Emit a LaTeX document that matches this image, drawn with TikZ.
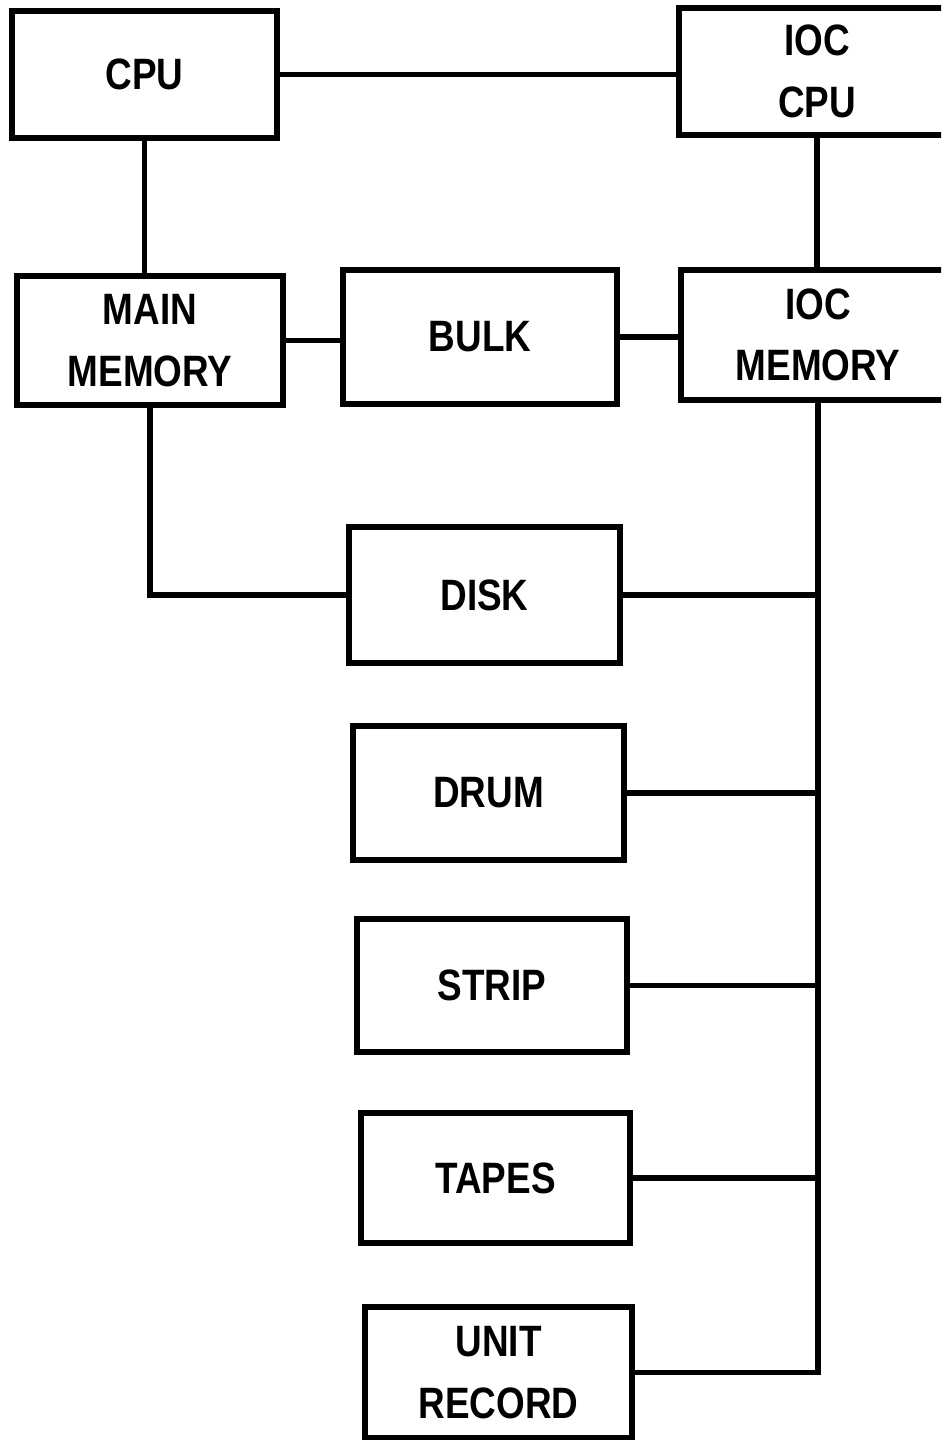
\documentclass[tikz,border=0pt]{standalone}
\usepackage{fontspec}
\setsansfont[FakeStretch=0.84]{Liberation Sans}
\usetikzlibrary{positioning, calc}

\begin{document}
\begin{tikzpicture}[
        x=0.02cm, y=-0.02cm,
        box/.style={rectangle, draw=black, fill=white, line width=3.2pt, align=center, inner sep=0pt, font=\sffamily\bfseries\fontsize{25}{35}\selectfont},
        link/.style={draw=black, line width=3.2pt}
      ]
        \clip (0,0) rectangle (941,1440);

        % Nodes
        \node[box, minimum width=5.3cm, minimum height=2.54cm] (cpu) at (144.5,74.5) {CPU};
        \node[box, minimum width=5.52cm, minimum height=2.54cm] (ioccpu) at (817,71.5) {IOC\\CPU};
        \node[box, minimum width=5.32cm, minimum height=2.58cm] (mainmem) at (150,340.5) {MAIN\\MEMORY};
        \node[box, minimum width=5.48cm, minimum height=2.68cm] (bulk) at (480,337) {BULK};
        \node[box, minimum width=5.48cm, minimum height=2.6cm] (iocmem) at (818,335) {IOC\\MEMORY};
        \node[box, minimum width=5.42cm, minimum height=2.72cm] (disk) at (484.5,595) {DISK};
        \node[box, minimum width=5.42cm, minimum height=2.68cm] (drum) at (488.5,793) {DRUM};
        \node[box, minimum width=5.4cm, minimum height=2.66cm] (strip) at (492,985.5) {STRIP};
        \node[box, minimum width=5.38cm, minimum height=2.6cm] (tapes) at (495.5,1178) {TAPES};
        \node[box, minimum width=5.34cm, minimum height=2.62cm] (unitrec) at (498.5,1372.5) {UNIT\\RECORD};

        % Connections
        \draw[link] (cpu.east) -- (ioccpu.west |- cpu.east);
        \draw[link] (cpu.south) -- (cpu.south |- mainmem.north);
        \draw[link] (ioccpu.south) -- (ioccpu.south |- iocmem.north);
        \draw[link] (mainmem.east) -- (bulk.west |- mainmem.east);
        \draw[link] (bulk.east) -- (iocmem.west |- bulk.east);
        \draw[link] (mainmem.south) |- (disk.west);
        \draw[link] (iocmem.south) |- (unitrec.east);
        \foreach \dev in {disk,drum,strip,tapes}
          \draw[link] (\dev.east) -- (\dev.east -| iocmem.south);
      \end{tikzpicture}
\end{document}
